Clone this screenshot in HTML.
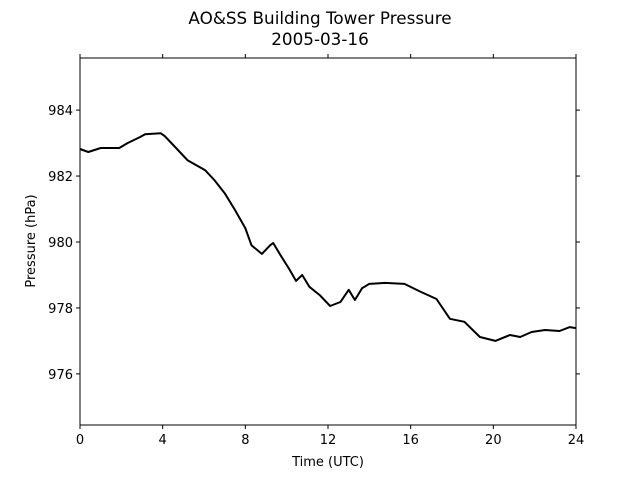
<!DOCTYPE html>
<html><head><meta charset="utf-8"><style>
body{margin:0;background:#fff}
svg text{font-family:"DejaVu Sans","Liberation Sans",sans-serif;fill:#000}
</style></head><body>
<svg width="640" height="480" viewBox="0 0 640 480">
<rect width="640" height="480" fill="#fff"/>
<text x="320" y="24" font-size="16.8" text-anchor="middle">AO&amp;SS Building Tower Pressure</text>
<text x="320" y="45" font-size="16.8" text-anchor="middle">2005-03-16</text>
<g id="axes"></g>
<path id="line" fill="none" stroke="#000" stroke-width="2" stroke-linejoin="round"/>
<rect x="80" y="58" width="496" height="367" fill="none" stroke="#000" stroke-width="1"/>
<text x="328" y="466" font-size="13" text-anchor="middle">Time (UTC)</text>
<text transform="translate(35,241) rotate(-90)" font-size="13" text-anchor="middle">Pressure (hPa)</text>
</svg>
<script>
const hours=[0,0.4,1.0,1.7,1.9,2.3,2.9,3.15,3.9,4.1,4.6,5.2,6.05,6.5,7.0,7.5,8.0,8.3,8.8,9.2,9.35,9.7,10.15,10.45,10.75,11.1,11.6,12.1,12.6,13.0,13.3,13.65,14.0,14.75,15.7,16.45,17.25,17.9,18.6,19.35,20.1,20.8,21.3,21.85,22.5,23.2,23.7,24];
const pressure=[982.82,982.73,982.85,982.85,982.85,983.0,983.18,983.27,983.3,983.21,982.88,982.48,982.18,981.88,981.48,980.97,980.42,979.9,979.64,979.9,979.97,979.6,979.15,978.82,979.0,978.64,978.39,978.06,978.18,978.55,978.24,978.6,978.73,978.76,978.73,978.5,978.27,977.67,977.58,977.12,977.0,977.18,977.12,977.27,977.33,977.3,977.42,977.39];
const xTicks=[0,4,8,12,16,20,24];
const yTicks=[976,978,980,982,984];
const X0=80,X1=576,Y0=58,Y1=425,xMin=0,xMax=24,yMin=974.45,yMax=985.58;
function sx(v){return X0+(v-xMin)/(xMax-xMin)*(X1-X0);}
function sy(v){return Y1-(v-yMin)/(yMax-yMin)*(Y1-Y0);}
const ns="http://www.w3.org/2000/svg";
const ax=document.getElementById('axes');
function mk(tag,attrs){const e=document.createElementNS(ns,tag);for(const k in attrs)e.setAttribute(k,attrs[k]);ax.appendChild(e);return e;}
xTicks.forEach(t=>{
  const x=sx(t);
  const a=mk('line',{x1:x,x2:x,y1:Y1,y2:Y1+4,stroke:'#000'});
  
  
  const b=mk('line',{x1:x,x2:x,y1:Y0,y2:Y0-4,stroke:'#000'});
  
  
  const tx=mk('text',{x:x,y:Y1+19,'font-size':13,'text-anchor':'middle'});
  tx.textContent=t;
  
  
});
yTicks.forEach(t=>{
  const y=sy(t);
  const a=mk('line',{x1:X0-4,x2:X0,y1:y,y2:y,stroke:'#000'});
  
  
  const b=mk('line',{x1:X1,x2:X1+4,y1:y,y2:y,stroke:'#000'});
  
  
  const tx=mk('text',{x:X0-7,y:y+5,'font-size':13,'text-anchor':'end'});
  tx.textContent=t;
  
  
});
document.getElementById('line').setAttribute('d',hours.map((h,i)=>(i?'L':'M')+sx(h).toFixed(1)+' '+sy(pressure[i]).toFixed(1)).join(' '));
</script>
</body></html>
